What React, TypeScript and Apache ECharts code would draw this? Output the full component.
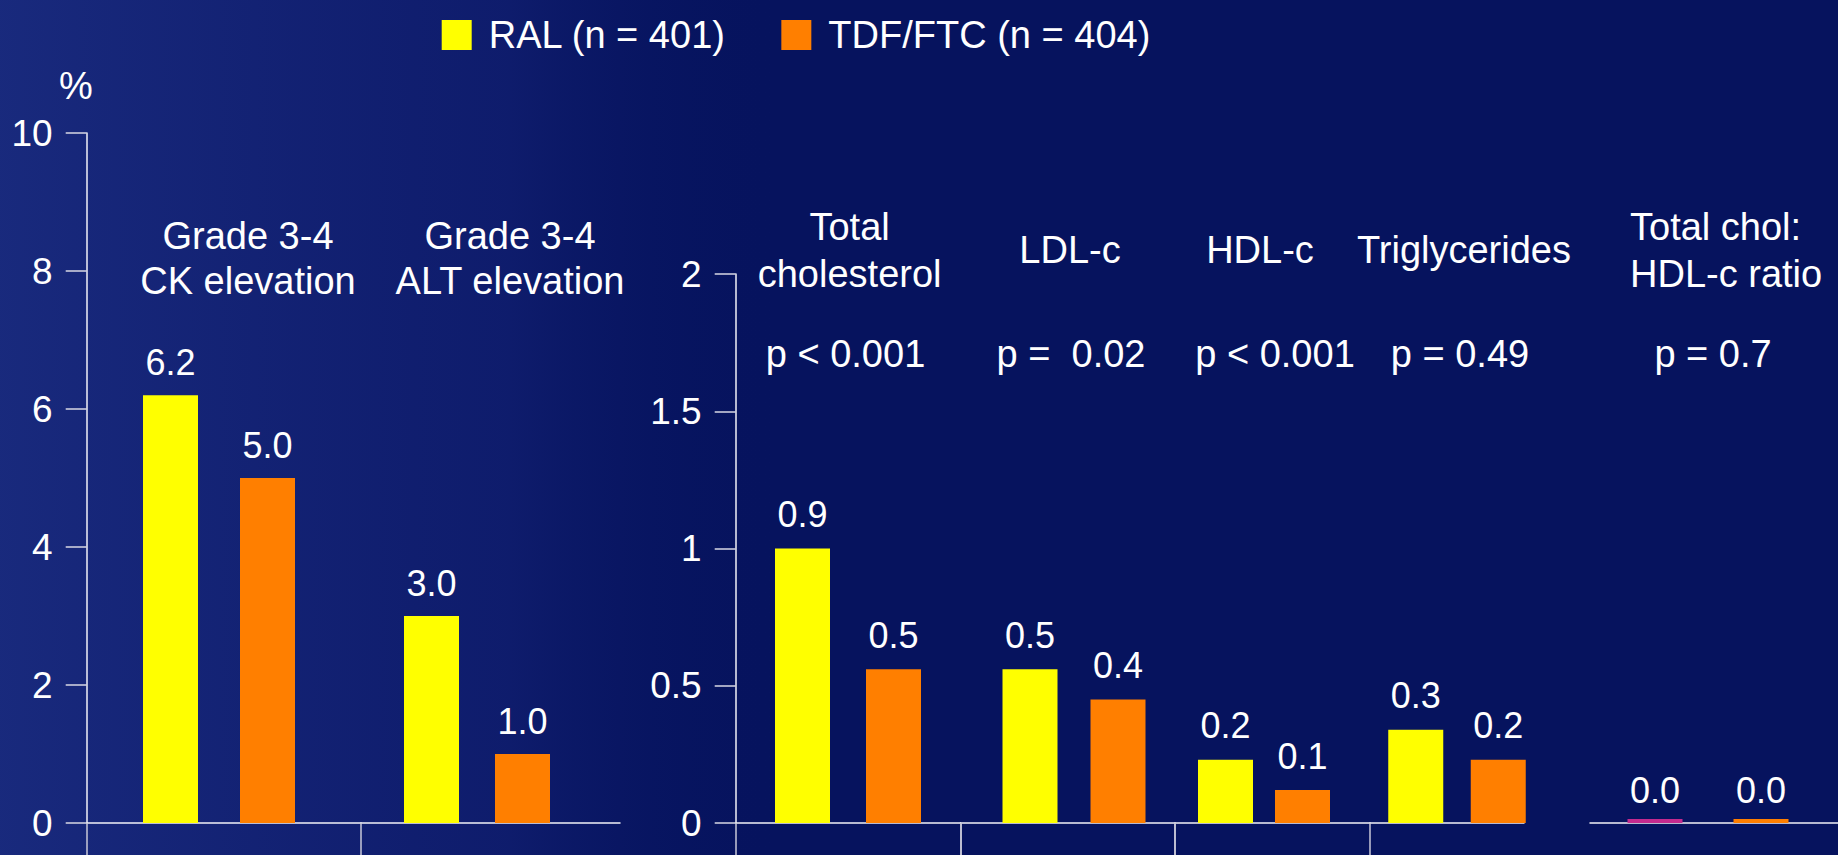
import React, { useEffect, useRef } from 'react';
import * as echarts from 'echarts';

// ---------- data ----------
const seriesNames = ['RAL (n = 401)', 'TDF/FTC (n = 404)'];

const leftCategories = ['Grade 3-4\nCK elevation', 'Grade 3-4\nALT elevation'];
const leftRAL = [6.2, 3.0];
const leftTDF = [5.0, 1.0];
const leftRALLabels = ['6.2', '3.0'];
const leftTDFLabels = ['5.0', '1.0'];
const leftAxisMax = 10;
const leftAxisInterval = 2;

const rightCategories = ['Total\ncholesterol', 'LDL-c', 'HDL-c', 'Triglycerides', 'Total chol:\nHDL-c ratio'];
const rightPValues = ['p < 0.001', 'p =  0.02', 'p < 0.001', 'p = 0.49', 'p = 0.7'];
const rightRAL = [1.0, 0.56, 0.23, 0.34, 0.015];
const rightTDF = [0.56, 0.45, 0.12, 0.23, 0.015];
const rightRALLabels = ['0.9', '0.5', '0.2', '0.3', '0.0'];
const rightTDFLabels = ['0.5', '0.4', '0.1', '0.2', '0.0'];
const rightAxisMax = 2;
const rightAxisInterval = 0.5;

// ---------- layout / style ----------
const W = 1838;
const H = 855;
const BASE = 823;
const LEFT_TOP = 133;
const RIGHT_TOP = 274;
const FONT = '"Liberation Sans", Arial, Helvetica, sans-serif';
const YELLOW = '#FFFF00';
const ORANGE = '#FF7F00';
const MAGENTA = '#C42A8E';
const BG = '#06135E';
const BAR_W = 55;

const leftFrames = [[86.7, 361], [361, 620]];
const leftTicksShown = [true, false];
const leftBarCenters = [219, 477];
const leftBarGaps = [42, 36];
const leftLabelPos = [[248, 258], [510, 258]];

const rightFrames = [[735.7, 960.5], [960.5, 1175], [1175, 1370], [1370, 1524], [1590, 1838]];
const rightTicksShown = [true, true, true, false, false];
const rightBarCenters = [848, 1074, 1264, 1457, 1708];
const rightBarGaps = [36, 33, 22, 27.5, 51];
const rightLabelX = [849.6, 1070, 1260, 1464, 1630];
const rightLabelAlign = ['center', 'center', 'center', 'center', 'left'];
const rightLabelY = 250;
const pValueX = [845.5, 1071, 1275, 1460, 1713];
const pValueY = 354;

function buildOption() {
  const grid: any[] = [];
  const xAxis: any[] = [];
  const yAxis: any[] = [];
  const series: any[] = [];

  const axisLine = { show: true, lineStyle: { color: '#F2F2F8', width: 1.5 } };

  const addFrame = (l: number, r: number, top: number, max: number, interval: number, showY: boolean, showTicks: boolean) => {
    const idx = grid.length;
    grid.push({ left: l, width: r - l, top, height: BASE - top, containLabel: false, outerBoundsMode: 'none' });
    xAxis.push({
      gridIndex: idx,
      type: 'category',
      data: [''],
      boundaryGap: true,
      axisLine,
      axisTick: { show: showTicks, length: 32, lineStyle: { color: '#C8C8D8', width: 1.5 } },
      axisLabel: { show: false },
      splitLine: { show: false },
    });
    yAxis.push({
      gridIndex: idx,
      type: 'value',
      min: 0,
      max,
      interval,
      show: showY,
      axisLine,
      axisTick: { show: true, length: 21, lineStyle: { color: '#D8D8E4', width: 1.5 } },
      axisLabel: { color: '#FFFFFF', fontSize: 37, fontFamily: FONT, margin: 34, padding: [15, 0, 0, 0] },
      splitLine: { show: false },
    });
  };

  const addBars = (
    center: number, gap: number, top: number, max: number,
    ral: number, tdf: number, ralLabel: string, tdfLabel: string,
    ralColor: string, fontSize: number, distance: number
  ) => {
    const idx = grid.length;
    grid.push({ left: center - 100, width: 200, top, height: BASE - top, containLabel: false, outerBoundsMode: 'none' });
    xAxis.push({ gridIndex: idx, type: 'category', data: [''], show: false });
    yAxis.push({ gridIndex: idx, type: 'value', min: 0, max, show: false, splitLine: { show: false } });
    const mk = (name: string, v: number, lbl: string, color: string) => ({
      type: 'bar',
      name,
      xAxisIndex: idx,
      yAxisIndex: idx,
      data: [v],
      barWidth: BAR_W,
      barGap: `${(gap / BAR_W) * 100}%`,
      itemStyle: { color },
      label: {
        show: true,
        position: 'top',
        distance,
        formatter: lbl,
        color: '#FFFFFF',
        fontSize,
        fontFamily: FONT,
      },
      z: 5,
    });
    series.push(mk(seriesNames[0], ral, ralLabel, ralColor));
    series.push(mk(seriesNames[1], tdf, tdfLabel, ORANGE));
  };

  // bars first so legend picks their colours
  leftRAL.forEach((_, i) => {
    addBars(leftBarCenters[i], leftBarGaps[i], LEFT_TOP, leftAxisMax, leftRAL[i], leftTDF[i], leftRALLabels[i], leftTDFLabels[i], YELLOW, 36, 15);
  });
  rightRAL.forEach((_, i) => {
    const last = i === rightRAL.length - 1;
    addBars(rightBarCenters[i], rightBarGaps[i], RIGHT_TOP, rightAxisMax, rightRAL[i], rightTDF[i], rightRALLabels[i], rightTDFLabels[i], last ? MAGENTA : YELLOW, 36, last ? 10 : 16);
  });

  leftFrames.forEach((f, i) => {
    addFrame(f[0], f[1], LEFT_TOP, leftAxisMax, leftAxisInterval, i === 0, leftTicksShown[i]);
  });
  rightFrames.forEach((f, i) => {
    addFrame(f[0], f[1], RIGHT_TOP, rightAxisMax, rightAxisInterval, i === 0, rightTicksShown[i]);
  });

  const graphic: any[] = [
    {
      type: 'rect',
      z: -100,
      silent: true,
      shape: { x: 0, y: 0, width: 780, height: H },
      style: {
        fill: new echarts.graphic.LinearGradient(0, 0, 1, 0, [
          { offset: 0, color: 'rgba(40,60,150,0.55)' },
          { offset: 0.65, color: 'rgba(30,45,135,0.35)' },
          { offset: 1, color: 'rgba(6,19,94,0)' },
        ]),
      },
    },
    {
      type: 'text',
      x: 76,
      y: 86,
      style: { text: '%', fill: '#FFFFFF', fontSize: 38, fontFamily: FONT, align: 'center', verticalAlign: 'middle' },
    },
  ];
  leftCategories.forEach((c, i) => {
    graphic.push({
      type: 'text',
      x: leftLabelPos[i][0],
      y: leftLabelPos[i][1],
      style: { text: c, fill: '#FFFFFF', fontSize: 38, fontFamily: FONT, align: 'center', verticalAlign: 'middle', lineHeight: 45 },
    });
  });
  rightCategories.forEach((c, i) => {
    graphic.push({
      type: 'text',
      x: rightLabelX[i],
      y: rightLabelY,
      style: { text: c, fill: '#FFFFFF', fontSize: 38, fontFamily: FONT, align: rightLabelAlign[i], verticalAlign: 'middle', lineHeight: 47 },
    });
  });
  rightPValues.forEach((p, i) => {
    graphic.push({
      type: 'text',
      x: pValueX[i],
      y: pValueY,
      style: { text: p, fill: '#FFFFFF', fontSize: 38, fontFamily: FONT, align: 'center', verticalAlign: 'middle' },
    });
  });

  return {
    animation: false,
    backgroundColor: BG,
    legend: {
      data: seriesNames,
      left: 436.7,
      top: 11,
      icon: 'rect',
      itemWidth: 30,
      itemHeight: 30,
      itemGap: 55,
      selectedMode: false,
      textStyle: { color: '#FFFFFF', fontSize: 38, fontFamily: FONT, padding: [0, 0, 0, 12], lineHeight: 30 },
    },
    grid,
    xAxis,
    yAxis,
    series,
    graphic,
  };
}

export default function App() {
  const ref = useRef<HTMLDivElement>(null);
  useEffect(() => {
    if (!ref.current) return;
    const chart = echarts.init(ref.current, undefined, { renderer: 'svg' });
    chart.setOption(buildOption() as any);
    return () => chart.dispose();
  }, []);
  return <div ref={ref} style={{ position: 'absolute', left: 0, top: 0, width: W, height: H }} />;
}
